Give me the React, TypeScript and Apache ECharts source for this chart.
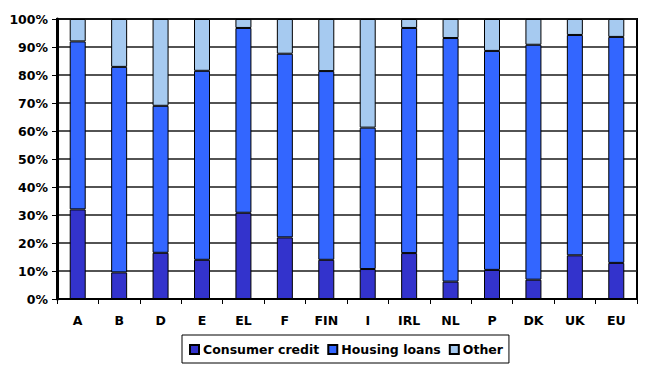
import React, { useEffect, useRef } from "react";
import * as echarts from "echarts";

const categories = ["A", "B", "D", "E", "EL", "F", "FIN", "I", "IRL", "NL", "P", "DK", "UK", "EU"];
const consumerCredit = [32, 9.5, 16.5, 14, 30.8, 22, 14, 10.7, 16.4, 6.2, 10.4, 6.9, 15.6, 12.9];
const housingLoans = [60, 73.4, 52.5, 67.5, 66, 65.6, 67.4, 50.5, 80.4, 87, 78.2, 83.9, 78.7, 80.7];
const other = [8, 17.1, 31, 18.5, 3.2, 12.4, 18.6, 38.8, 3.2, 6.8, 11.4, 9.2, 5.7, 6.4];

const FONT = "'DejaVu Sans', sans-serif";

export default function App() {
  const ref = useRef<HTMLDivElement>(null);
  useEffect(() => {
    if (!ref.current) return;
    const chart = echarts.init(ref.current, undefined, { renderer: "svg" });
    const barStyle = (color: string) => ({
      color,
      borderColor: "#000",
      borderWidth: 1,
    });
    chart.setOption({
      animation: false,
      backgroundColor: "#fff",
      grid: {
        left: 57,
        right: 10,
        top: 19,
        bottom: 69,
        show: true,
        borderColor: "#000",
        borderWidth: 2,
        backgroundColor: "transparent",
      },
      legend: {
        left: 182,
        top: 335,
        itemWidth: 9,
        itemHeight: 9,
        itemGap: 8,
        padding: [8, 6, 7, 7],
        borderColor: "#000",
        borderWidth: 1,
        icon: "rect",
        textStyle: { fontFamily: FONT, fontWeight: "bold", fontSize: 12.5, color: "#000", padding: [0, 0, 0, -1] },
        data: ["Consumer credit", "Housing loans", "Other"],
      },
      xAxis: {
        type: "category",
        data: categories,
        boundaryGap: true,
        axisLine: { lineStyle: { color: "#000", width: 2 } },
        axisTick: { show: true, length: 5, lineStyle: { color: "#000", width: 1 }, alignWithLabel: false },
        axisLabel: { fontFamily: FONT, fontWeight: "bold", fontSize: 12.5, color: "#000", margin: 15 },
        splitLine: { show: false },
      },
      yAxis: {
        type: "value",
        min: 0,
        max: 100,
        interval: 10,
        axisLine: { show: true, lineStyle: { color: "#000", width: 3 } },
        axisTick: { show: true, length: 5, lineStyle: { color: "#000", width: 1 } },
        axisLabel: { formatter: "{value}%", fontFamily: FONT, fontWeight: "bold", fontSize: 12.5, color: "#000", margin: 9 },
        splitLine: { show: true, lineStyle: { color: "#1a1a1a", width: 1.5 } },
      },
      series: [
        { name: "Consumer credit", type: "bar", stack: "total", barWidth: 16, data: consumerCredit, itemStyle: barStyle("#3333CC") },
        { name: "Housing loans", type: "bar", stack: "total", barWidth: 16, data: housingLoans, itemStyle: barStyle("#3366FF") },
        { name: "Other", type: "bar", stack: "total", barWidth: 16, data: other, itemStyle: barStyle("#A6CAF0") },
      ],
    });
    return () => chart.dispose();
  }, []);
  return <div ref={ref} style={{ width: 647, height: 368, position: "absolute", left: 0, top: 0 }} />;
}
